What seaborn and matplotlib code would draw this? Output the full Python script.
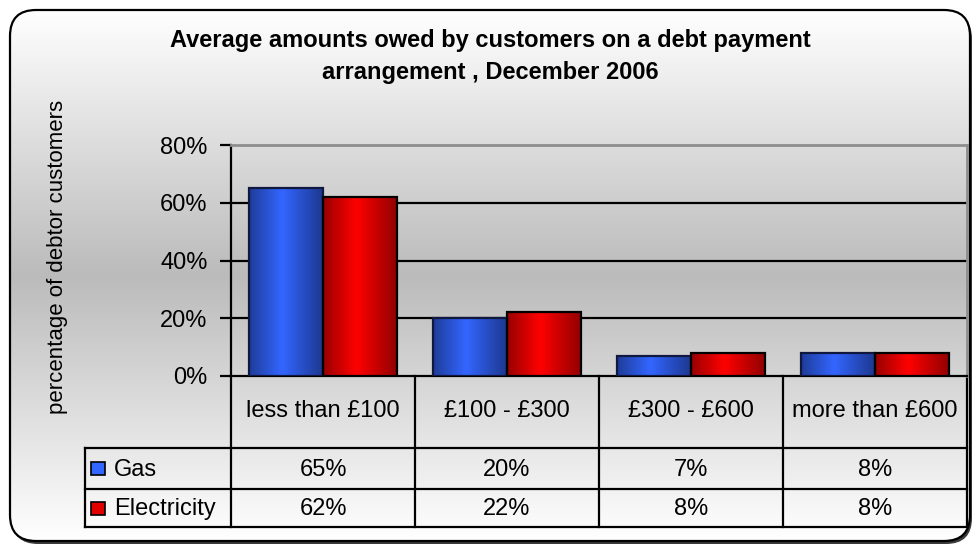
import numpy as np
import pandas as pd
import matplotlib
matplotlib.use("Agg")
import matplotlib.pyplot as plt
import seaborn as sns
from matplotlib.patches import FancyBboxPatch, Rectangle
from matplotlib.colors import LinearSegmentedColormap
from matplotlib.ticker import PercentFormatter

# ---- data ----------------------------------------------------------------
categories = ["less than £100", "£100 - £300", "£300 - £600", "more than £600"]
series_names = ["Gas", "Electricity"]
gas = [65, 20, 7, 8]
electricity = [62, 22, 8, 8]
y_ticks = [0, 20, 40, 60, 80]
title_lines = ["Average amounts owed by customers on a debt payment",
               "arrangement , December 2006"]
y_label = "percentage of debtor customers"

# ---- style ---------------------------------------------------------------
sns.set_theme(style="white")
plt.rcParams["font.family"] = ["Liberation Sans", "DejaVu Sans"]
plt.rcParams["text.color"] = "black"

BLUE = "#3366ff"
RED = "#ff0000"
blue_grad = LinearSegmentedColormap.from_list(
    "blue_bar", [(0, "#1e3c98"), (0.45, "#3366ff"), (1, "#1d3890")])
red_grad = LinearSegmentedColormap.from_list(
    "red_bar", [(0, "#980000"), (0.45, "#ff0000"), (1, "#930000")])

FS = 17          # table / tick text size
W, H = 980, 548
fig = plt.figure(figsize=(W / 100, H / 100), dpi=100, facecolor="white")

# background layer in pixel coordinates (frame, gradient, data table)
bg = fig.add_axes([0, 0, 1, 1], zorder=0)
bg.set_xlim(0, W)
bg.set_ylim(H, 0)
bg.axis("off")

fx0, fy0, fw, fh = 10, 10, 960, 531
box = "round,pad=0,rounding_size=26"
bg.add_patch(FancyBboxPatch((fx0 + 2, fy0 + 3), fw, fh, boxstyle=box,
                            fc="#3a3a3a", ec="none", zorder=0))
frame = FancyBboxPatch((fx0, fy0), fw, fh, boxstyle=box,
                       fc="none", ec="black", lw=1.6, zorder=6)
bg.add_patch(frame)

# vertical gradient: white at the top and bottom, grey in the middle
yy = np.linspace(fy0, fy0 + fh, 400)
mid = fy0 + fh / 2
shade = 1 - (68 / 255) * (1 - np.abs(yy - mid) / (fh / 2))
rgb = np.repeat(shade[:, None, None], 3, axis=2)
im = bg.imshow(rgb, extent=[fx0, fx0 + fw, fy0 + fh, fy0], aspect="auto",
               interpolation="bilinear", zorder=1)
im.set_clip_path(frame)
bg.set_xlim(0, W)
bg.set_ylim(H, 0)

# ---- plot area -----------------------------------------------------------
px0, px1, py_top, py_bot = 231, 967, 145, 376
ax = fig.add_axes([px0 / W, 1 - py_bot / H, (px1 - px0) / W,
                   (py_bot - py_top) / H], zorder=2)
ax.set_facecolor("none")

df = pd.DataFrame({
    "category": categories * 2,
    "series": [series_names[0]] * len(gas) + [series_names[1]] * len(electricity),
    "value": [v / 100 for v in gas + electricity],
})
sns.barplot(data=df, x="category", y="value", hue="series",
            hue_order=series_names, order=categories,
            palette=[BLUE, RED], saturation=1, width=0.8, legend=False,
            edgecolor="black", linewidth=1.6, ax=ax)

# shaded cylinder-like fill on each bar
for p in list(ax.patches):
    h = p.get_height()
    if not np.isfinite(h) or h <= 0:
        continue
    fc = p.get_facecolor()
    is_blue = fc[2] > fc[0]
    x0, w = p.get_x(), p.get_width()
    grad = np.linspace(0, 1, 256)[None, :]
    bar_im = ax.imshow(grad, cmap=blue_grad if is_blue else red_grad,
                       extent=[x0, x0 + w, 0, h], aspect="auto",
                       interpolation="bilinear", zorder=2.9)
    bar_im.set_clip_path(p)
    p.set_facecolor("none")
    p.set_edgecolor("#101840" if is_blue else "black")
    p.set_zorder(3)

ax.set_xlim(-0.5, len(categories) - 0.5)
ax.set_ylim(0, max(y_ticks) / 100)
ax.set_yticks([t / 100 for t in y_ticks])
ax.yaxis.set_major_formatter(PercentFormatter(1.0, decimals=0))
ax.set_xticks([])
ax.set_xlabel("")
ax.set_ylabel("")
for t in y_ticks[1:-1]:
    ax.axhline(t / 100, color="black", lw=1.6, zorder=1)
ax.tick_params(axis="y", direction="out", length=8, width=1.6,
               color="black", labelsize=FS, pad=9, left=True,
               labelcolor="black")
for side in ("left", "bottom"):
    ax.spines[side].set_color("black")
    ax.spines[side].set_linewidth(1.6)
for side in ("top", "right"):
    ax.spines[side].set_color("#8e8e8e")
    ax.spines[side].set_linewidth(2)

# ---- data table under the plot -------------------------------------------
col_w = (px1 - px0) / len(categories)
col_edges = [px0 + i * col_w for i in range(len(categories) + 1)]
col_mid = [px0 + (i + 0.5) * col_w for i in range(len(categories))]
tbl_left = 85
row_y = [py_bot, 448, 489, 527]
lkw = dict(color="black", lw=1.6, zorder=3, solid_capstyle="projecting")

for x in col_edges:
    bg.plot([x, x], [py_bot, row_y[-1]], **lkw)
for y in row_y[1:]:
    bg.plot([tbl_left, px1], [y, y], **lkw)
bg.plot([tbl_left, tbl_left], [row_y[1], row_y[-1]], **lkw)

for xm, cat in zip(col_mid, categories):
    bg.text(xm, 411, cat, ha="center", va="center", fontsize=FS,
            color="black", zorder=4)

rows = [(series_names[0], gas, BLUE), (series_names[1], electricity, "#e00000")]
for r, (name, vals, col) in enumerate(rows):
    yc = (row_y[r + 1] + row_y[r + 2]) / 2
    bg.add_patch(Rectangle((91, yc - 6.5), 14, 13, fc=col, ec="black",
                           lw=1.2, zorder=4))
    bg.text(114, yc + 1, name, ha="left", va="center", fontsize=FS,
            color="black", zorder=4)
    for xm, v in zip(col_mid, vals):
        bg.text(xm, yc + 1, f"{v}%", ha="center", va="center",
                fontsize=FS, color="black", zorder=4)

# ---- titles --------------------------------------------------------------
bg.text(490, 40, title_lines[0], ha="center", va="center", fontsize=17,
        fontweight="bold", color="black", zorder=4)
bg.text(490, 72, title_lines[1], ha="center", va="center", fontsize=17,
        fontweight="bold", color="black", zorder=4)
bg.text(57, 257, y_label, rotation=90, ha="center", va="center",
        fontsize=16, color="black", zorder=4)

fig.savefig("out.png", dpi=100, facecolor="white")
